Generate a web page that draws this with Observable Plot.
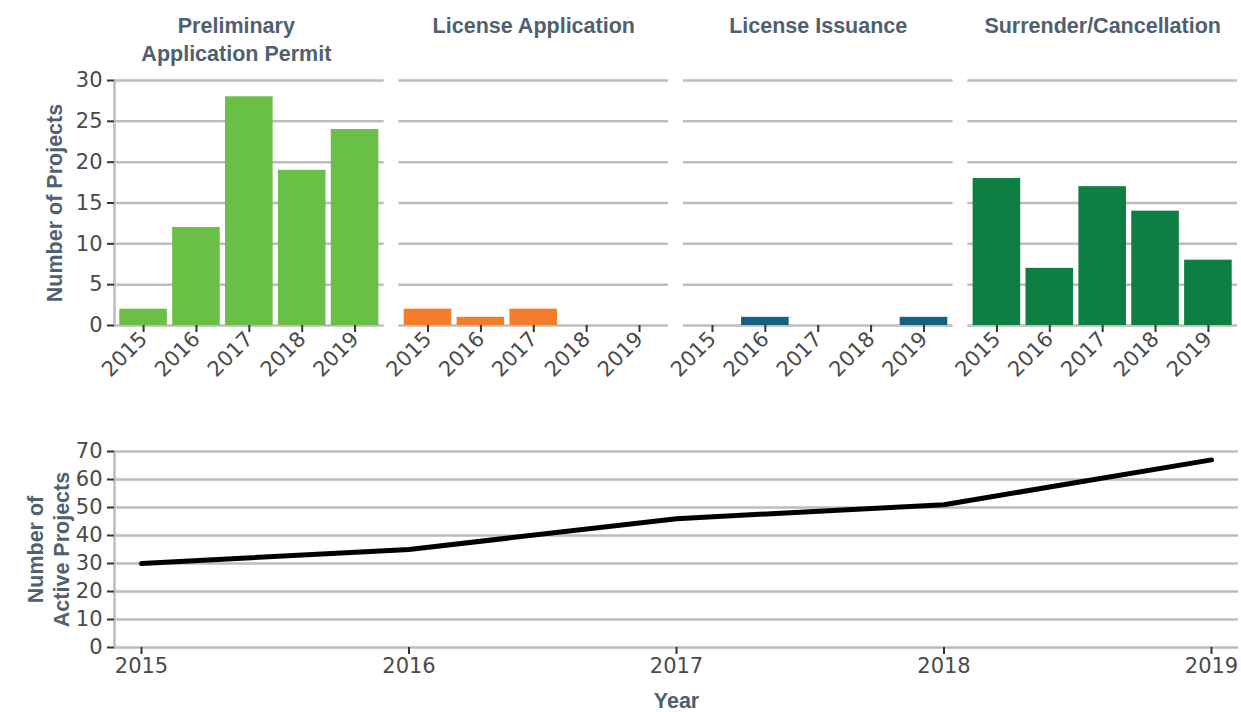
<!DOCTYPE html>
<html>
<head>
<meta charset="utf-8">
<script src="https://cdn.jsdelivr.net/npm/d3@7"></script>
<script src="https://cdn.jsdelivr.net/npm/@observablehq/plot@0.6"></script>
<style>
  body { margin: 0; background: #fff; }
  #chart svg { display: block; }
</style>
</head>
<body>
<div id="chart"></div>
<script>
const years = ["2015", "2016", "2017", "2018", "2019"];
const panels = ["Preliminary Application Permit", "License Application", "License Issuance", "Surrender/Cancellation"];
const panelTitles = ["Preliminary\nApplication Permit", "License Application", "License Issuance", "Surrender/Cancellation"];
const panelColors = ["#6abf47", "#f47d2b", "#175f80", "#0d7f43"];
const prelimPermit = [2, 12, 28, 19, 24];
const licenseApplication = [2, 1, 2, 0, 0];
const licenseIssuance = [0, 1, 0, 0, 1];
const surrenderCancel = [18, 7, 17, 14, 8];
const topTicks = [0, 5, 10, 15, 20, 25, 30];
const activeYears = [2015, 2016, 2017, 2018, 2019];
const activeProjects = [30, 35, 46, 51, 67];
const bottomTicks = [0, 10, 20, 30, 40, 50, 60, 70];

const seriesByPanel = [prelimPermit, licenseApplication, licenseIssuance, surrenderCancel];
const barData = [];
panels.forEach((p, i) => years.forEach((y, j) => barData.push({panel: p, year: y, value: seriesByPanel[i][j]})));
const activeData = activeYears.map((y, i) => ({year: y, value: activeProjects[i]}));

const FONT = "'Liberation Sans', Arial, sans-serif";
const TICK_FONT = "'DejaVu Sans', sans-serif";
const TICK_FS = 21;
const TITLE_FS = 21.5;
const gridColor = "#bdbdbd";
const tickColor = "#333";
const textColor = "#4a4a4a";
const titleColor = "#4f6070";

const axisStyle = {stroke: tickColor, strokeWidth: 2, label: null, fill: textColor, fontSize: TICK_FS, fontFamily: TICK_FONT};

const topChart = Plot.plot({
  width: 1241,
  height: 395,
  marginLeft: 114,
  marginRight: 4,
  marginTop: 80,
  marginBottom: 70,
  style: {fontFamily: FONT, fontSize: TICK_FS + "px", color: textColor, background: "#fff"},
  fx: {domain: panels, paddingInner: 0.052, paddingOuter: 0, round: false, axis: null, label: null},
  x: {domain: years, padding: 0.1, round: false, label: null},
  y: {domain: [0, 30], label: null},
  color: {domain: panels, range: panelColors},
  marks: [
    Plot.ruleY(topTicks, {stroke: gridColor, strokeWidth: 2.5}),
    Plot.frame({anchor: "left", facetAnchor: "left", stroke: gridColor, strokeWidth: 2.5}),
    Plot.barY(barData, {fx: "panel", x: "year", y: "value", fill: "panel"}),
    Plot.axisY({ticks: topTicks, tickSize: 7, tickPadding: 5, ...axisStyle}),
    Plot.axisX({tickRotate: -45, tickSize: 7, tickPadding: 3, ...axisStyle}),
    Plot.text(panels.slice(1), {fx: d => d, text: (d, i) => panelTitles[i + 1], frameAnchor: "top", lineAnchor: "top", dy: -67, fontWeight: "bold", fontSize: TITLE_FS, fill: titleColor, lineHeight: 1.3}),
    Plot.text(panels.slice(0, 1), {fx: d => d, text: () => panelTitles[0], frameAnchor: "top", lineAnchor: "top", dy: -67, dx: -13, fontWeight: "bold", fontSize: TITLE_FS, fill: titleColor, lineHeight: 1.3}),
    Plot.text(["Number of Projects"], {fx: () => panels[0], frameAnchor: "left", textAnchor: "middle", rotate: -90, dx: -59, fontWeight: "bold", fontSize: TITLE_FS, fill: titleColor})
  ]
});

const bottomChart = Plot.plot({
  width: 1241,
  height: 317,
  marginLeft: 114,
  marginRight: 3,
  marginTop: 56,
  marginBottom: 65,
  style: {fontFamily: FONT, fontSize: TICK_FS + "px", color: textColor, background: "#fff"},
  x: {domain: [2015, 2019], insetLeft: 27, insetRight: 27, label: null},
  y: {domain: [0, 70], label: null},
  marks: [
    Plot.ruleY(bottomTicks, {stroke: gridColor, strokeWidth: 2.5}),
    Plot.frame({anchor: "left", stroke: gridColor, strokeWidth: 2.5}),
    Plot.line(activeData, {x: "year", y: "value", curve: "linear", stroke: "#000", strokeWidth: 5, strokeLinejoin: "round"}),
    Plot.axisY({ticks: bottomTicks, tickSize: 7, tickPadding: 5, ...axisStyle}),
    Plot.axisX({ticks: activeYears, tickFormat: d => String(d), tickSize: 7, tickPadding: 4, ...axisStyle}),
    Plot.text(["Year"], {frameAnchor: "bottom", dy: 60, fontWeight: "bold", fontSize: TITLE_FS, fill: titleColor}),
    Plot.text(["Number of\nActive Projects"], {frameAnchor: "left", textAnchor: "middle", rotate: -90, dx: -67, fontWeight: "bold", fontSize: TITLE_FS, fill: titleColor, lineHeight: 1.2})
  ]
});

const root = document.getElementById("chart");
root.appendChild(topChart);
root.appendChild(bottomChart);
</script>
</body>
</html>
